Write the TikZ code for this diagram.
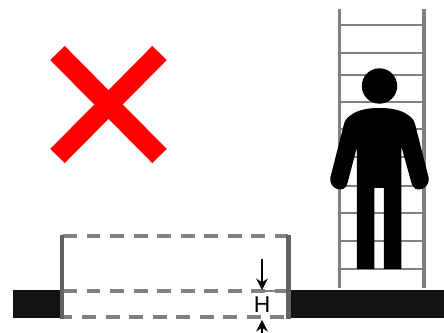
\documentclass[tikz,border=0pt]{standalone}
\usepackage{fontspec}
\setmainfont{Liberation Sans}
\usetikzlibrary{arrows.meta}
\colorlet{railgray}{black!50}
\colorlet{wallgray}{black!62}
\colorlet{groundblack}{black!93}
\tikzset{
  rail/.style={draw=railgray, line width=1.9pt},
  rung/.style={draw=railgray, line width=1.5pt},
  wall/.style={draw=wallgray, line width=2.6pt},
  dashline/.style={draw=railgray, line width=2.1pt, dash pattern=on 7.9pt off 5.5pt},
  marker/.style={draw=black, line width=0.9pt, -{Stealth[length=6.5pt, width=6.5pt]}}
}
\begin{document}
\begin{tikzpicture}[x=0.02cm, y=-0.02cm]
    \useasboundingbox (0,0) rectangle (444,333);

    % red cross
    \draw[red, line width=11.5pt] (57.5,53) -- (159.5,156);
    \draw[red, line width=11.5pt] (159.5,53) -- (57.5,156);

    % ladder
    \draw[rail] (339.5,9) -- (339.5,288);
    \draw[rail] (424,9) -- (424,288);
    \foreach \y in {25,53,75,102,129,157,186,213,241,269}
      \draw[rung] (339.5,\y) -- (424,\y);

    % person
    \fill[black] (379.5,86) circle (17.7);
    \fill[black] (379.5,108) .. controls (367,108) and (358,110) .. (351,115)
      .. controls (347,118) and (345,120) .. (344,124)
      -- (330.5,177) .. controls (328,189) and (345,195) .. (347.5,183)
      -- (357,147) -- (357,269) -- (374.5,269) -- (374.5,188) -- (384,188)
      -- (384,269) -- (401.5,269) -- (401.5,147) -- (411.5,183)
      .. controls (414,195) and (431,189) .. (428.5,177)
      -- (415,124) .. controls (414,120) and (412,118) .. (408,115)
      .. controls (401,110) and (392,108) .. (379.5,108) -- cycle;

    % ground
    \fill[groundblack] (13,290) rectangle (60,318);
    \fill[groundblack] (290,290) rectangle (444,318);

    % opening
    \draw[dashline] (63,236) -- (288,236);
    \draw[dashline] (63,291) -- (288,291);
    \draw[dashline, dash phase=2.5pt] (63,317) -- (288,317);
    \draw[railgray, line width=0.6pt] (265,291) -- (288,291);
    \draw[wall] (62,235) -- (62,319);
    \draw[wall] (288.5,235) -- (288.5,319);

    % height marker
    \node[inner sep=0pt, font=\fontsize{13}{14}\selectfont] (hlabel) at (262,305) {H};
    \coordinate (hdowntail) at (262,259);
    \coordinate (hdownhead) at (262,290);
    \coordinate (huptail) at (262,333);
    \coordinate (huphead) at (262,320);
    \draw[marker] (hdowntail) -- (hdownhead);
    \draw[marker] (huptail) -- (huphead);
\end{tikzpicture}
\end{document}
